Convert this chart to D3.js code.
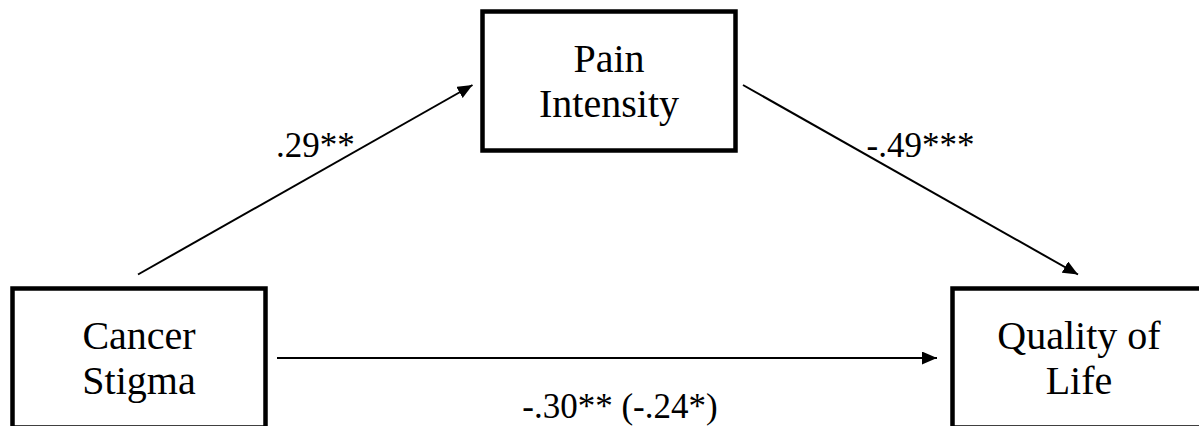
<!DOCTYPE html>
<html lang="en">
<head>
<meta charset="utf-8">
<title>Mediation model</title>
<script src="https://cdnjs.cloudflare.com/ajax/libs/d3/7.8.5/d3.min.js"></script>
<style>
  body { margin: 0; background: #fff; }
  svg { display: block; }
</style>
</head>
<body>
<div id="diagram"></div>
<script>
// variables (two lines each) and where they sit in the model
const nodeIds = ["M", "X", "Y"];
const nodeLines = [["Pain", "Intensity"], ["Cancer", "Stigma"], ["Quality of", "Life"]];
const nodeColumn = ["mid", "left", "right"];
const nodeRow = ["top", "bottom", "bottom"];

// paths and their coefficients
const pathFrom = ["X", "M", "X"];
const pathTo = ["M", "Y", "Y"];
const pathLabels = [".29**", "-.49***", "-.30** (-.24*)"];

const width = 1199, height = 426;
const boxW = 253, boxH = 139;
const serif = "'Liberation Serif', 'Times New Roman', 'DejaVu Serif', serif";

const xScale = d3.scalePoint().domain(["left", "mid", "right"]).range([139, 1079]);
const yScale = d3.scalePoint().domain(["top", "bottom"]).range([81, 358]);

const nodes = nodeIds.map((id, i) => ({
  id: id,
  lines: nodeLines[i],
  cx: xScale(nodeColumn[i]),
  cy: yScale(nodeRow[i])
}));
const byId = {};
nodes.forEach(n => byId[n.id] = n);

const svg = d3.select("#diagram").append("svg")
  .attr("width", width)
  .attr("height", height)
  .style("font-family", serif);

svg.append("defs").append("marker")
  .attr("id", "head")
  .attr("markerUnits", "userSpaceOnUse")
  .attr("viewBox", "0 0 15 13")
  .attr("markerWidth", 15)
  .attr("markerHeight", 13)
  .attr("refX", 15)
  .attr("refY", 6.5)
  .attr("orient", "auto")
  .append("path")
  .attr("d", "M0,0 L15,6.5 L0,13 Z")
  .attr("fill", "#000");

// where each arrow starts/ends relative to the boxes
function endpoints(a, b) {
  if (a.cy === b.cy) {
    // same row: horizontal, side to side
    return [a.cx + boxW / 2 + 11.5, a.cy, b.cx - boxW / 2 - 15.5, b.cy];
  }
  if (a.cy > b.cy) {
    // rising: from top of lower box to left side of upper box
    return [a.cx - 1, a.cy - boxH / 2 - 14, b.cx - boxW / 2 - 10, b.cy + 4];
  }
  // falling: from right side of upper box to top of lower box
  return [a.cx + boxW / 2 + 7.5, a.cy + 4, b.cx - 1, b.cy - boxH / 2 - 14];
}

const paths = pathLabels.map((label, i) => {
  const p = endpoints(byId[pathFrom[i]], byId[pathTo[i]]);
  return { label: label, x1: p[0], y1: p[1], x2: p[2], y2: p[3], flat: p[1] === p[3] };
});

svg.append("g").selectAll("line")
  .data(paths)
  .join("line")
  .attr("x1", d => d.x1)
  .attr("y1", d => d.y1)
  .attr("x2", d => d.x2)
  .attr("y2", d => d.y2)
  .attr("stroke", "#000")
  .attr("stroke-width", 2)
  .attr("marker-end", "url(#head)");

svg.append("g").selectAll("text")
  .data(paths)
  .join("text")
  .attr("x", d => (d.x1 + d.x2) / 2 + (d.flat ? 13 : 10))
  .attr("y", d => (d.y1 + d.y2) / 2 + (d.flat ? 60 : -23))
  .attr("text-anchor", "middle")
  .attr("font-family", serif)
  .attr("font-size", 35)
  .attr("fill", "#000")
  .text(d => d.label);

const boxes = svg.append("g").selectAll("g")
  .data(nodes)
  .join("g")
  .attr("transform", d => `translate(${d.cx},${d.cy})`);

boxes.append("rect")
  .attr("x", -boxW / 2)
  .attr("y", -boxH / 2)
  .attr("width", boxW)
  .attr("height", boxH)
  .attr("fill", "#fff")
  .attr("stroke", "#000")
  .attr("stroke-width", 4.5);

boxes.append("text")
  .attr("text-anchor", "middle")
  .attr("font-family", serif)
  .attr("font-size", 40)
  .attr("fill", "#000")
  .selectAll("tspan")
  .data(d => d.lines)
  .join("tspan")
  .attr("x", 0)
  .attr("y", (d, i) => i === 0 ? -9 : 36)
  .text(d => d);
</script>
</body>
</html>
